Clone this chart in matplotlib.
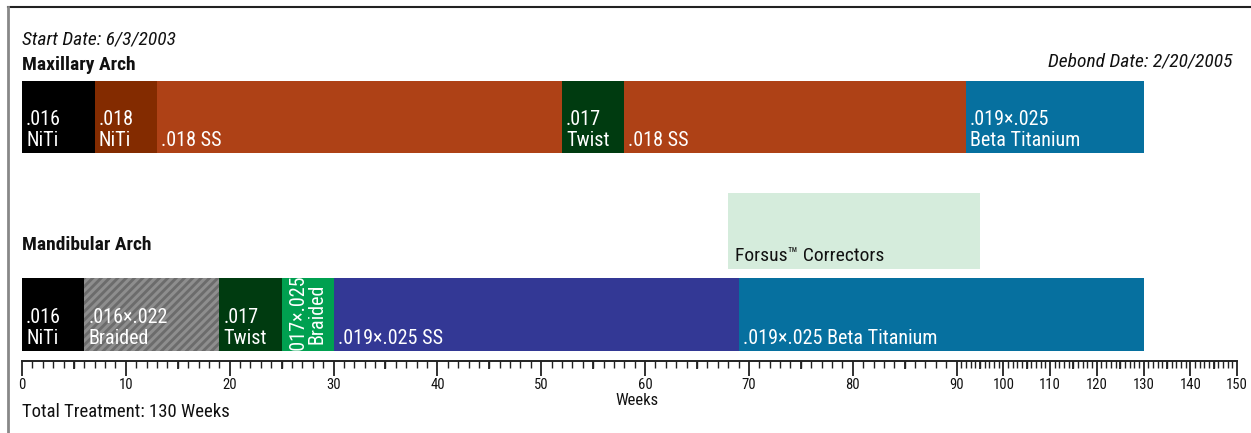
"""Wire sequence timeline for maxillary and mandibular arches, 130-week treatment."""

import matplotlib.pyplot as plt
import matplotlib.transforms as mtransforms
import numpy as np
from matplotlib.lines import Line2D

W, H = 1251, 433
DPI = 100

INK = "#111111"
FONT = ["Roboto Condensed", "Fira Sans Condensed", "DejaVu Sans"]

plt.rcParams.update({
    "font.family": FONT,
    "text.color": INK,
    "hatch.linewidth": 2.2,
})

# weeks beyond BREAK are drawn compressed on the axis
BREAK = 90
SQUEEZE = 0.45


def fwd(x):
    x = np.asarray(x, dtype=float)
    return np.where(x <= BREAK, x, BREAK + (x - BREAK) * SQUEEZE)


def inv(y):
    y = np.asarray(y, dtype=float)
    return np.where(y <= BREAK, y, BREAK + (y - BREAK) / SQUEEZE)


# ---- data (weeks from start) ----
max_labels = [".016\nNiTi", ".018\nNiTi", ".018 SS", ".017\nTwist", ".018 SS",
              ".019×.025\nBeta Titanium"]
max_start = [0, 7, 13, 52, 58, 92]
max_end = [7, 13, 52, 58, 92, 130]

mand_labels = [".016\nNiTi", ".016×.022\nBraided", ".017\nTwist", ".017×.025\nBraided",
               ".019×.025 SS", ".019×.025 Beta Titanium"]
mand_start = [0, 6, 19, 25, 30, 69]
mand_end = [6, 19, 25, 30, 69, 130]

forsus_label = "Forsus™ Correctors"
forsus_start, forsus_end = 68, 95

total_weeks = 130
tick_weeks = list(range(0, 151, 10))

# ---- styles ----
MAX_COLORS = ["#000000", "#832b00", "#ae4116", "#003b10", "#ae4116", "#06709f"]
MAND_COLORS = ["#000000", "#6c6c6c", "#003b10", "#00a050", "#333895", "#06709f"]
FORSUS_COLOR = "#d5ecdc"

# vertical layout in pixel rows
MAX_TOP, MAX_BOT = 81, 153
MAND_TOP, MAND_BOT = 278, 351
FOR_TOP, FOR_BOT = 193, 269
AXIS_Y = 361

fig = plt.figure(figsize=(W / DPI, H / DPI), dpi=DPI)
ax = fig.add_axes([22 / W, 0, 1215 / W, 1])
ax.set_xscale("function", functions=(fwd, inv))
ax.set_xlim(0, 150)
ax.set_ylim(H, 0)
ax.patch.set_alpha(0)


def draw_row(starts, ends, colors, top, bot):
    return ax.barh((top + bot) / 2, np.subtract(ends, starts), left=starts,
                   height=bot - top, color=colors, linewidth=0, zorder=2)


mx = draw_row(max_start, max_end, MAX_COLORS, MAX_TOP, MAX_BOT)
md = draw_row(mand_start, mand_end, MAND_COLORS, MAND_TOP, MAND_BOT)

# braided wire gets a striped fill
md[1].set_hatch("////")
md[1].set_edgecolor("#8e8e8e")

# Forsus appliance band above the mandibular row
ax.barh((FOR_TOP + FOR_BOT) / 2, forsus_end - forsus_start, left=forsus_start,
        height=FOR_BOT - FOR_TOP, color=FORSUS_COLOR, linewidth=0, zorder=1)
ax.annotate(forsus_label, (forsus_start, FOR_BOT - 4), xytext=(7, 0),
            textcoords="offset pixels", va="bottom", ha="left", fontsize=14, color=INK)


def label_row(labels, starts, bot, skip=()):
    for i, (lab, s) in enumerate(zip(labels, starts)):
        if i in skip:
            continue
        ax.annotate(lab, (s, bot - 3), xytext=(4, 0), textcoords="offset pixels",
                    ha="left", va="bottom", fontsize=14.5, color="white",
                    linespacing=1.15, zorder=3)


label_row(max_labels, max_start, MAX_BOT)
label_row(mand_labels, mand_start, MAND_BOT, skip=(3,))

# narrow segment: label runs vertically and is cut off by the bar
mid = float(inv((fwd(mand_start[3]) + fwd(mand_end[3])) / 2))
t = ax.text(mid, MAND_BOT + 3, mand_labels[3], rotation=90, ha="center", va="bottom",
            fontsize=14.5, color="white", linespacing=1.0, zorder=3)
t.set_clip_path(md[3])

# ---- axis ----
for side in ("top", "left", "right"):
    ax.spines[side].set_visible(False)
ax.spines["bottom"].set_position(("data", AXIS_Y))
ax.spines["bottom"].set_linewidth(1.4)
ax.spines["bottom"].set_color("#222222")
ax.set_yticks([])
ax.set_xticks(tick_weeks, [str(w) for w in tick_weeks])
ax.set_xticks(range(0, 151), minor=True)
ax.tick_params(which="major", length=11, width=1.3, color="#222222",
               labelsize=10.5, pad=1, labelcolor=INK)
ax.tick_params(which="minor", length=5, width=1, color="#222222")
ax.vlines(range(5, 150, 10), AXIS_Y, AXIS_Y + 8, color="#222222", linewidth=1.3)

blend = mtransforms.blended_transform_factory(ax.transAxes, ax.transData)
ax.text(0.506, 405, "Weeks", transform=blend, ha="center", va="baseline", fontsize=12)


# ---- headings ----
def fig_px(x, y):
    return x / W, 1 - y / H


fig.text(*fig_px(22, 44), "Start Date: 6/3/2003", style="italic", fontsize=14, va="baseline")
fig.text(*fig_px(22, 70), "Maxillary Arch", fontweight="bold", fontsize=14, va="baseline")
fig.text(*fig_px(1232, 67), "Debond Date: 2/20/2005", style="italic", fontsize=14,
         ha="right", va="baseline")
fig.text(*fig_px(22, 250), "Mandibular Arch", fontweight="bold", fontsize=14, va="baseline")
fig.text(*fig_px(22, 417), f"Total Treatment: {total_weeks} Weeks", fontsize=13.5,
         va="baseline")

# panel frame (top and left edges)
fig.add_artist(Line2D([8 / W, 1], [1 - 7 / H] * 2, color="#222222", linewidth=1.5))
fig.add_artist(Line2D([8 / W] * 2, [0, 1 - 7 / H], color="#888888", linewidth=2))

fig.savefig("out.png", dpi=DPI)
